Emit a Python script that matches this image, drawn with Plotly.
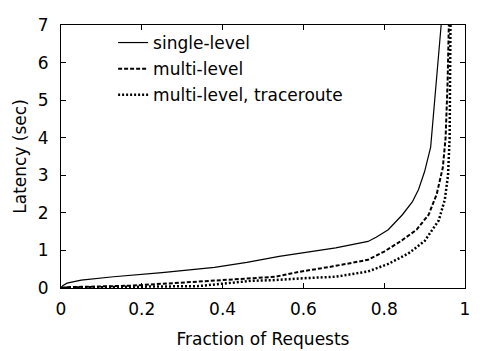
import plotly.graph_objects as go

single_x = [0, 0.005, 0.015, 0.05, 0.13, 0.25, 0.38, 0.46, 0.54, 0.6, 0.68, 0.76, 0.78, 0.81, 0.845, 0.87, 0.885, 0.9, 0.915, 0.925, 0.935, 0.941]
single_y = [0, 0.07, 0.13, 0.21, 0.30, 0.41, 0.55, 0.68, 0.84, 0.93, 1.07, 1.24, 1.35, 1.55, 1.95, 2.3, 2.62, 3.1, 3.75, 5.0, 6.2, 7.0]

multi_x = [0, 0.01, 0.05, 0.17, 0.34, 0.47, 0.53, 0.59, 0.67, 0.76, 0.80, 0.84, 0.88, 0.91, 0.93, 0.945, 0.952, 0.957, 0.96]
multi_y = [0, 0.02, 0.03, 0.06, 0.17, 0.27, 0.30, 0.43, 0.57, 0.75, 0.97, 1.24, 1.55, 1.95, 2.5, 3.2, 4.0, 5.5, 7.0]

trace_x = [0, 0.02, 0.15, 0.34, 0.47, 0.53, 0.6, 0.68, 0.76, 0.81, 0.86, 0.9, 0.935, 0.95, 0.958, 0.962, 0.963, 0.964]
trace_y = [0, 0.01, 0.03, 0.05, 0.19, 0.21, 0.26, 0.30, 0.44, 0.64, 0.92, 1.25, 1.8, 2.35, 3.0, 4.0, 5.5, 7.0]

x_ticks = [0, 0.2, 0.4, 0.6, 0.8, 1]
y_ticks = [0, 1, 2, 3, 4, 5, 6, 7]

FONT = "DejaVu Sans, sans-serif"
FS = 17

fig = go.Figure()
fig.add_trace(go.Scatter(x=single_x, y=single_y, mode="lines", name="single-level",
                         legendgroup="a", line=dict(color="black", width=1.2)))
fig.add_trace(go.Scatter(x=multi_x, y=multi_y, mode="lines", name="multi-level",
                         legendgroup="b", line=dict(color="black", width=2, dash="4px,2px")))
fig.add_trace(go.Scatter(x=trace_x, y=trace_y, mode="lines", name="multi-level, traceroute",
                         legendgroup="c", line=dict(color="black", width=2.5, dash="2px,2px")))

axis_common = dict(showgrid=False, zeroline=False, showline=True, linecolor="black",
                   linewidth=1, mirror="ticks", ticks="inside", ticklen=5, automargin=False,
                   tickcolor="black", tickfont=dict(family=FONT, size=FS, color="black"))

fig.update_layout(
    width=501, height=351,
    margin=dict(l=61, r=36, t=25, b=63),
    paper_bgcolor="white", plot_bgcolor="white",
    font=dict(family=FONT, size=FS, color="black"),
    showlegend=True,
    legend=dict(x=0.129, y=1.0, xanchor="left", yanchor="top",
                bgcolor="rgba(0,0,0,0)", font=dict(family=FONT, size=FS),
                tracegroupgap=1),
    xaxis=dict(range=[0, 1], tickvals=x_ticks, ticktext=["0", "0.2", "0.4", "0.6", "0.8", "1"],
               ticklabelstandoff=6,
               title=dict(text="Fraction of Requests", font=dict(family=FONT, size=FS), standoff=14),
               **axis_common),
    yaxis=dict(range=[0, 7], tickvals=y_ticks, ticklabelstandoff=8,
               title=dict(text="Latency (sec)", font=dict(family=FONT, size=FS), standoff=6),
               **axis_common),
)

fig.write_html("out.html")
